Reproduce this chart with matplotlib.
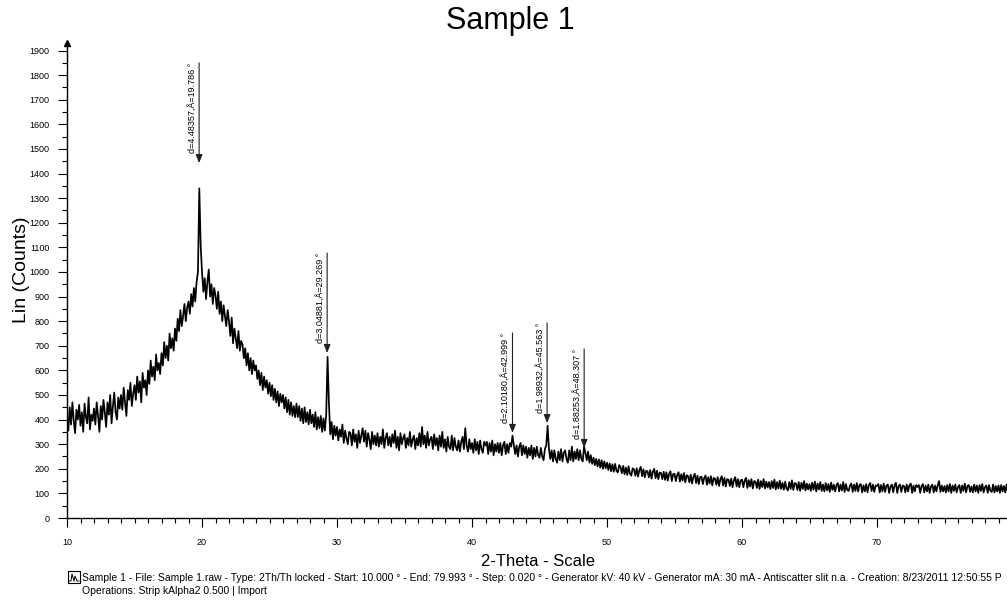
import numpy as np
import matplotlib.pyplot as plt
from matplotlib.ticker import MultipleLocator
from matplotlib.patches import Rectangle

plt.rcParams['font.family'] = ['Liberation Sans', 'DejaVu Sans']

# 2-Theta scan, 0.1 degree steps from 10.0 to 79.9 (one row per degree)
two_theta_start = 10.0
two_theta_step = 0.1
counts = [
    410, 355, 450, 380, 470, 395, 345, 440, 400, 460,
    375, 430, 350, 465, 410, 385, 490, 360, 420, 395,
    445, 380, 470, 415, 350, 455, 400, 480, 430, 370,
    470, 420, 500, 385, 455, 510, 430, 400, 490, 445,
    500, 440, 530, 470, 415, 520, 480, 550, 455, 505,
    540, 480, 575, 510, 555, 470, 590, 530, 560, 500,
    600, 545, 640, 575, 615, 560, 665, 600, 630, 585,
    670, 620, 715, 650, 700, 640, 750, 690, 730, 680,
    770, 720, 810, 760, 845, 780, 820, 870, 800, 855,
    880, 830, 910, 860, 935, 880, 960, 1000, 1340, 1110,
    1000, 920, 975, 890, 960, 1010, 900, 950, 870, 935,
    905, 850, 920, 830, 880, 800, 865, 820, 780, 845,
    800, 740, 815, 710, 770, 730, 690, 760, 680, 720,
    705, 650, 690, 620, 670, 600, 650, 585, 640, 600,
    620, 565, 600, 540, 590, 520, 575, 530, 560, 505,
    550, 495, 540, 480, 525, 470, 515, 455, 505, 470,
    500, 445, 490, 430, 480, 420, 470, 415, 455, 410,
    465, 410, 455, 395, 445, 385, 450, 390, 430, 380,
    440, 385, 420, 370, 430, 360, 410, 365, 415, 350,
    405, 355, 420, 655, 470, 340, 390, 320, 375, 335,
    370, 315, 360, 330, 380, 305, 355, 325, 300, 350,
    345, 295, 360, 310, 340, 285, 355, 305, 335, 365,
    310, 355, 290, 345, 320, 280, 350, 300, 335, 295,
    345, 290, 330, 300, 360, 285, 325, 345, 295, 330,
    290, 340, 305, 355, 285, 330, 275, 345, 300, 325,
    340, 285, 325, 295, 350, 290, 320, 335, 280, 325,
    295, 345, 290, 370, 300, 335, 285, 350, 295, 320,
    330, 280, 340, 295, 325, 275, 335, 290, 350, 285,
    320, 270, 330, 290, 280, 335, 275, 325, 290, 275,
    315, 270, 310, 330, 280, 365, 295, 270, 320, 280,
    305, 265, 320, 275, 310, 260, 315, 280, 265, 310,
    295, 310, 260, 305, 270, 315, 255, 300, 270, 305,
    265, 305, 255, 295, 310, 260, 300, 265, 305, 290,
    335, 295, 260, 295, 250, 290, 305, 255, 295, 260,
    290, 245, 285, 255, 295, 240, 285, 250, 290, 255,
    245, 285, 250, 235, 280, 295, 375, 280, 240, 275,
    230, 275, 240, 225, 270, 235, 280, 230, 265, 275,
    240, 225, 275, 235, 290, 230, 270, 240, 280, 235,
    275, 240, 230, 290, 265, 235, 270, 225, 255, 220,
    245, 215, 240, 210, 238, 205, 235, 200, 230, 202,
    225, 195, 222, 190, 218, 188, 220, 192, 185, 215,
    208, 182, 212, 178, 205, 175, 210, 180, 172, 202,
    198, 172, 202, 168, 195, 208, 170, 198, 165, 192,
    190, 165, 195, 160, 188, 200, 162, 192, 158, 185,
    183, 158, 188, 155, 186, 152, 180, 190, 150, 178,
    180, 150, 176, 186, 148, 178, 152, 183, 145, 174,
    170, 145, 176, 140, 168, 180, 142, 172, 138, 166,
    168, 138, 163, 173, 135, 166, 140, 170, 132, 163,
    160, 135, 166, 130, 158, 170, 132, 163, 128, 158,
    156, 130, 160, 125, 154, 166, 128, 158, 125, 153,
    156, 125, 153, 163, 122, 154, 128, 158, 120, 150,
    148, 122, 156, 118, 150, 126, 158, 120, 148, 124,
    146, 118, 150, 122, 156, 116, 146, 120, 152, 118,
    143, 115, 148, 120, 112, 146, 118, 153, 114, 142,
    140, 114, 146, 110, 143, 118, 150, 112, 140, 116,
    138, 110, 144, 115, 148, 108, 140, 116, 146, 110,
    136, 108, 142, 112, 138, 106, 144, 114, 136, 108,
    134, 142, 108, 136, 112, 146, 106, 138, 114, 110,
    132, 140, 106, 136, 110, 142, 108, 134, 138, 104,
    133, 108, 138, 105, 134, 142, 110, 136, 106, 132,
    130, 138, 104, 134, 108, 140, 106, 132, 136, 102,
    128, 136, 105, 132, 143, 102, 130, 136, 106, 132,
    130, 104, 136, 108, 133, 140, 102, 132, 108, 134,
    126, 134, 102, 130, 138, 104, 132, 108, 136, 102,
    128, 136, 104, 132, 108, 134, 150, 106, 132, 108,
    130, 104, 134, 108, 138, 102, 132, 110, 136, 104,
    126, 134, 102, 132, 110, 140, 104, 130, 134, 106,
    128, 104, 136, 108, 132, 102, 134, 110, 138, 104,
    126, 132, 102, 134, 110, 106, 136, 104, 130, 108,
    132, 102, 134, 108, 130, 104, 136, 106, 132, 110,
]

# peak markers: position, d-spacing, arrow tip and line top (counts)
peak_pos = [19.786, 29.269, 42.999, 45.563, 48.307]
peak_d = ["4.48357", "3.04881", "2.10180", "1.98932", "1.88253"]
peak_tip = [1443, 671, 346, 386, 285]
peak_top = [1850, 1077, 752, 793, 687]

two_theta = two_theta_start + two_theta_step * np.arange(len(counts))

fig = plt.figure(figsize=(10.07, 6.03), dpi=100)
ax = fig.add_axes([67 / 1007, 85 / 603, 945 / 1007, 474.8 / 603])

ax.plot(two_theta, counts, color='black', lw=1.25)

ax.set_xlim(10, 80)
ax.set_ylim(0, 1930)
for side in ['top', 'right']:
    ax.spines[side].set_visible(False)
ax.spines['left'].set_linewidth(1.0)
ax.spines['bottom'].set_linewidth(1.0)

ax.xaxis.set_major_locator(MultipleLocator(10))
ax.xaxis.set_minor_locator(MultipleLocator(1))
ax.yaxis.set_major_locator(MultipleLocator(100))
ax.yaxis.set_minor_locator(MultipleLocator(50))
ax.tick_params(axis='both', which='major', direction='out', length=6.5, width=0.8,
               labelsize=6.5, pad=6)
ax.tick_params(axis='both', which='minor', direction='out', length=3.5, width=0.8)
ax.tick_params(axis='x', which='major', pad=8)

# arrow head on top of the y axis
ax.plot(10, 1930, marker='^', color='black', markersize=4, clip_on=False)

for pos, d, tip, top in zip(peak_pos, peak_d, peak_tip, peak_top):
    ax.annotate('', xy=(pos, tip), xytext=(pos, top),
                arrowprops=dict(arrowstyle='-|>,head_length=0.5,head_width=0.2',
                                color='#202020', lw=0.8, shrinkA=0, shrinkB=0))
    ax.annotate(f"d={d},Å={pos:.3f} °", xy=(pos, top), xytext=(-2, 0),
                textcoords='offset points', rotation=90, ha='right', va='top',
                fontsize=6.5)

fig.text(510 / 1007, 1 - 21 / 603, "Sample 1", ha='center', va='center', fontsize=22)
fig.text(538 / 1007, 1 - 562 / 603, "2-Theta - Scale", ha='center', va='center', fontsize=12)
fig.text(22 / 1007, 1 - 270 / 603, "Lin (Counts)", ha='center', va='center',
         rotation=90, fontsize=14)

# scan info footer
fig.patches.append(Rectangle((68 / 1007, 1 - 583 / 603), 12 / 1007, 12 / 603,
                             transform=fig.transFigure, fill=False, lw=0.8,
                             edgecolor='black'))
fig.lines.append(plt.Line2D(np.array([69, 71, 72, 74, 75, 77, 79]) / 1007,
                            1 - np.array([581, 581, 574, 581, 576, 581, 581]) / 603,
                            transform=fig.transFigure, color='black', lw=0.7))
fig.text(82 / 1007, 1 - 578 / 603,
         "Sample 1 - File: Sample 1.raw - Type: 2Th/Th locked - Start: 10.000 ° - "
         "End: 79.993 ° - Step: 0.020 ° - Generator kV: 40 kV - Generator mA: 30 mA - "
         "Antiscatter slit n.a. - Creation: 8/23/2011 12:50:55 P",
         ha='left', va='center', fontsize=7.5)
fig.text(82 / 1007, 1 - 591 / 603, "Operations: Strip kAlpha2 0.500 | Import",
         ha='left', va='center', fontsize=7.5)

fig.savefig('out.png', dpi=100)
